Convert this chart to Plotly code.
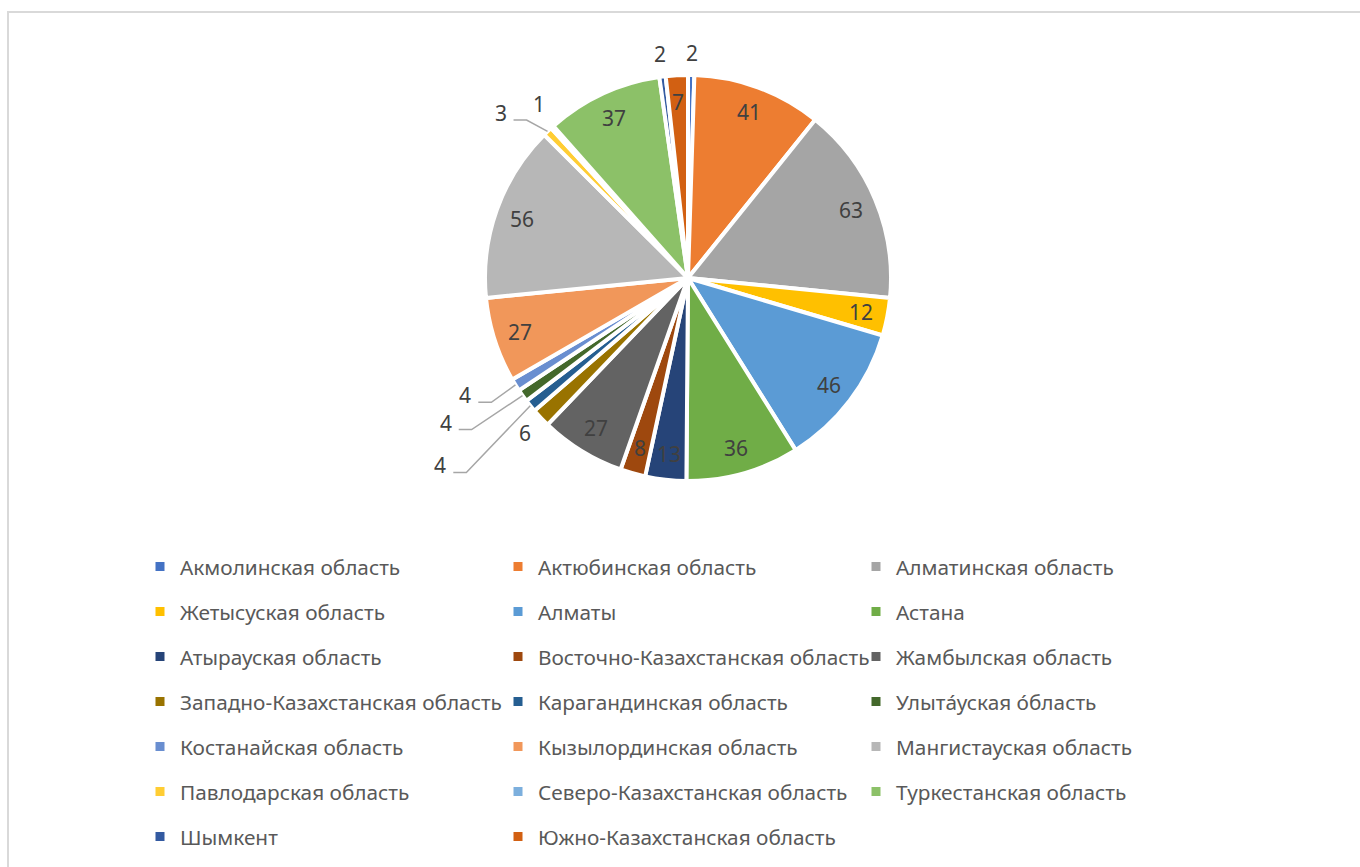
import math
import plotly.graph_objects as go

# ---------------- data ----------------
regions = [
    'Акмолинская область', 'Актюбинская область', 'Алматинская область',
    'Жетысуская область', 'Алматы', 'Астана',
    'Атырауская область', 'Восточно-Казахстанская область', 'Жамбылская область',
    'Западно-Казахстанская область', 'Карагандинская область', 'Улыта́уская о́бласть',
    'Костанайская область', 'Кызылординская область', 'Мангистауская область',
    'Павлодарская область', 'Северо-Казахстанская область', 'Туркестанская область',
    'Шымкент', 'Южно-Казахстанская область',
]
counts = [2, 41, 63, 12, 46, 36, 13, 8, 27, 6, 4, 4, 4, 27, 56, 3, 1, 37, 2, 7]

colors = [
    '#4472C4', '#ED7D31', '#A5A5A5', '#FFC000', '#5B9BD5', '#70AD47',
    '#264478', '#9E480E', '#636363', '#997300', '#255E91', '#43682B',
    '#698ED0', '#F1975A', '#B7B7B7', '#FFCD33', '#7CAFDD', '#8CC168',
    '#335AA1', '#D26012',
]

# ---------------- geometry (pixels) ----------------
W, H = 1360, 867
CX, CY, R = 688, 278, 203
FONT = 'Noto Sans'

def px(x):
    return x / W

def py(y):
    return 1 - y / H

# label placement: index -> (radius factor, angle shift in deg, leader line)
outside = {0: (1.11, 0, False), 18: (1.11, 0, False), 9: (1.11, 0, False),
           16: (1.13, 1.4, False),
           12: (1.24, 4.0, True), 11: (1.39, 4.6, True), 10: (1.53, 1.9, True),
           15: (1.23, -4.9, True)}

fig = go.Figure()

fig.add_trace(go.Pie(
    labels=regions,
    values=counts,
    sort=False,
    direction='clockwise',
    rotation=0,
    marker=dict(colors=colors, line=dict(color='white', width=4)),
    textinfo='none',
    hoverinfo='label+value',
    showlegend=False,
    domain=dict(x=[px(CX - R), px(CX + R)], y=[py(CY + R), py(CY - R)]),
))

total = sum(counts)
cum = 0
for i, v in enumerate(counts):
    mid = math.radians((cum + v / 2) / total * 360)
    cum += v
    rf, shift, line = outside.get(i, (0.87, 0, False))
    ang = mid + math.radians(shift)
    lx = CX + rf * R * math.sin(ang)
    ly = CY - rf * R * math.cos(ang)
    fig.add_annotation(x=px(lx), y=py(ly), xref='paper', yref='paper',
                       xanchor='center', yanchor='middle',
                       text=str(v), showarrow=False,
                       font=dict(family=FONT, size=21, color='#404040'))
    if line:
        ex = CX + R * math.sin(mid)
        ey = CY - R * math.cos(mid)
        path = 'M {:.4f},{:.4f} L {:.4f},{:.4f} L {:.4f},{:.4f}'.format(
            px(lx + 13), py(ly + 7), px(lx + 26), py(ly + 7), px(ex), py(ey))
        fig.add_shape(type='path', path=path, xref='paper', yref='paper',
                      line=dict(color='#A6A6A6', width=1.5))

# legend: 3 columns x 7 rows, one legend per row
row_y = [567, 612, 657, 702, 747, 792, 837]
for i, (name, c) in enumerate(zip(regions, colors)):
    row = i // 3
    lg = 'legend' if row == 0 else 'legend%d' % (row + 1)
    fig.add_trace(go.Scatter(
        x=[None], y=[None], mode='markers', name=name,
        marker=dict(symbol='square', size=9, color=c),
        legend=lg, hoverinfo='skip',
    ))

legends = {}
for row, y in enumerate(row_y):
    key = 'legend' if row == 0 else 'legend%d' % (row + 1)
    legends[key] = dict(
        orientation='h', x=px(140), xanchor='left', y=py(y), yanchor='middle',
        entrywidth=313, entrywidthmode='pixels',
        font=dict(family=FONT, size=20.8, color='#595959'),
        bgcolor='rgba(0,0,0,0)', borderwidth=0,
    )

fig.update_layout(
    width=W, height=H,
    margin=dict(l=0, r=0, t=0, b=0),
    paper_bgcolor='white', plot_bgcolor='white',
    xaxis=dict(visible=False), yaxis=dict(visible=False),
    **legends,
)

# chart area border
fig.add_shape(type='rect', xref='paper', yref='paper',
              x0=px(8), y0=-0.05, x1=1.05, y1=py(12),
              line=dict(color='#D9D9D9', width=2))

fig.write_html("out.html", config={'displayModeBar': False},
               post_script="document.body.style.margin='0px';")
